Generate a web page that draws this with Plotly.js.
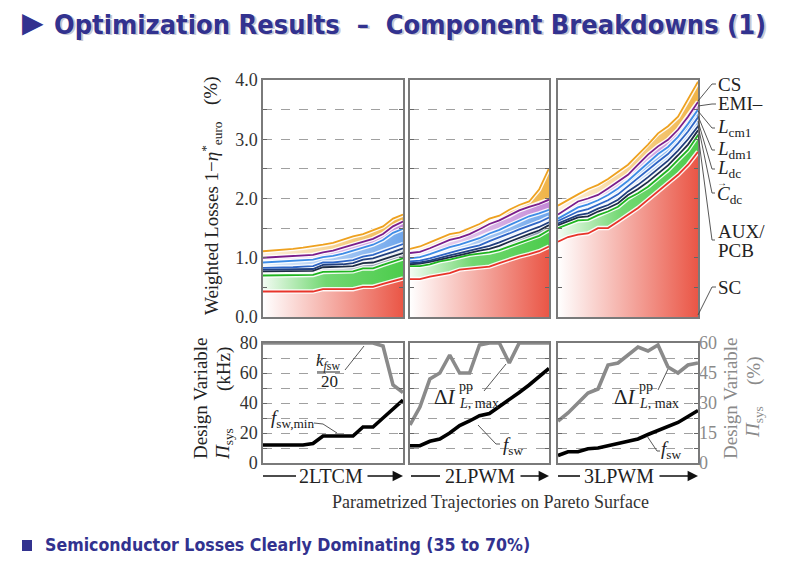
<!DOCTYPE html>
<html>
<head>
<meta charset="utf-8">
<script src="https://cdn.plot.ly/plotly-3.0.1.min.js"></script>
<style>body{margin:0;background:#fff}</style>
</head>
<body>
<div id="chart" style="width:792px;height:563px"></div>
<script>
// sample index along each Pareto trajectory
var idx = [0,1,2,3,4,5,6,7,8,9,10,11,12,13,14];

// cumulative weighted losses 1-eta (%), top edge of each component, 2LTCM
var tcm_SC   = [0.43,0.43,0.43,0.43,0.43,0.43,0.47,0.47,0.47,0.47,0.51,0.51,0.56,0.60,0.65];
var tcm_AUX  = [0.70,0.70,0.70,0.70,0.70,0.71,0.76,0.76,0.76,0.77,0.82,0.82,0.88,0.93,0.99];
var tcm_Cdc  = [0.77,0.77,0.77,0.77,0.77,0.78,0.84,0.84,0.85,0.86,0.91,0.92,0.97,1.02,1.08];
var tcm_Ldc  = [0.80,0.80,0.80,0.80,0.80,0.81,0.88,0.88,0.89,0.91,0.97,0.99,1.04,1.10,1.16];
var tcm_Ldm1 = [0.83,0.83,0.84,0.84,0.85,0.86,0.92,0.92,0.94,0.96,1.02,1.05,1.11,1.17,1.23];
var tcm_Lcm1 = [0.92,0.93,0.94,0.95,0.96,0.97,1.01,1.03,1.07,1.12,1.17,1.22,1.30,1.42,1.49];
var tcm_EMI  = [1.00,1.01,1.02,1.03,1.04,1.05,1.09,1.12,1.17,1.22,1.27,1.32,1.40,1.53,1.61];
var tcm_CS   = [1.11,1.12,1.13,1.15,1.17,1.19,1.22,1.25,1.31,1.36,1.40,1.46,1.53,1.66,1.73];

// 2LPWM
var pwm2_SC   = [0.64,0.64,0.68,0.71,0.74,0.80,0.82,0.83,0.85,0.91,0.97,1.02,1.06,1.11,1.19];
var pwm2_AUX  = [0.86,0.86,0.89,0.94,0.97,1.01,1.05,1.07,1.09,1.13,1.19,1.25,1.30,1.37,1.47];
var pwm2_Cdc  = [0.89,0.90,0.93,0.97,1.01,1.05,1.09,1.12,1.15,1.20,1.27,1.34,1.40,1.46,1.55];
var pwm2_Ldc  = [0.91,0.92,0.95,1.00,1.04,1.08,1.12,1.15,1.20,1.26,1.33,1.40,1.46,1.52,1.60];
var pwm2_Ldm1 = [0.94,0.95,0.99,1.04,1.09,1.13,1.17,1.21,1.28,1.34,1.41,1.48,1.54,1.60,1.68];
var pwm2_Lcm1 = [0.99,1.01,1.06,1.12,1.18,1.22,1.27,1.33,1.41,1.47,1.55,1.63,1.70,1.75,1.81];
var pwm2_EMI  = [1.08,1.10,1.16,1.23,1.30,1.34,1.40,1.48,1.57,1.63,1.71,1.80,1.86,1.91,1.98];
var pwm2_CS   = [1.15,1.19,1.26,1.33,1.40,1.43,1.50,1.57,1.66,1.71,1.81,1.89,1.95,2.15,2.51];

// 3LPWM
var pwm3_SC   = [1.27,1.35,1.39,1.41,1.50,1.50,1.61,1.72,1.84,1.98,2.12,2.26,2.40,2.57,2.79];
var pwm3_AUX  = [1.50,1.56,1.63,1.64,1.72,1.78,1.86,2.00,2.09,2.20,2.34,2.48,2.65,2.82,3.07];
var pwm3_Cdc  = [1.55,1.61,1.68,1.70,1.78,1.84,1.92,2.06,2.16,2.28,2.42,2.56,2.73,2.91,3.15];
var pwm3_Ldc  = [1.58,1.65,1.72,1.75,1.83,1.89,1.98,2.12,2.23,2.36,2.50,2.64,2.81,3.00,3.22];
var pwm3_Ldm1 = [1.62,1.70,1.78,1.82,1.90,1.97,2.07,2.21,2.34,2.48,2.62,2.75,2.93,3.13,3.37];
var pwm3_Lcm1 = [1.66,1.76,1.85,1.90,1.97,2.06,2.17,2.30,2.45,2.61,2.75,2.87,3.04,3.26,3.50];
var pwm3_EMI  = [1.73,1.84,1.95,2.00,2.06,2.17,2.29,2.40,2.57,2.74,2.88,2.99,3.16,3.38,3.63];
var pwm3_CS   = [1.88,1.98,2.07,2.16,2.23,2.33,2.45,2.57,2.74,2.91,3.10,3.22,3.38,3.67,3.97];

// design variables: switching frequency (kHz) and k_fsw/20 resp. ripple (%)
var tcm_fsw   = [12,12,12,12,12,13,18,18,18,18,24,24,30,36,42];
var tcm_kfsw  = [80,80,80,80,80,80,80,80,80,80,80,80,78,52,47];
var pwm2_fsw  = [11.5,11.5,14.5,16,20,25,28,31.5,33,37.5,42,47,52,57.5,63];
var pwm2_dI   = [19,28,42,45,54,45,45,59,60,60,50,60,60,60,60];
var pwm3_fsw  = [5,7.5,7.5,9.5,10,11.5,12.5,14,16,19,21.5,24,27,31,35];
var pwm3_dI   = [21,25,30,35,37,49,50,54,58,56,59,48,45,49,50];

var layerNames = ['SC','AUX','Cdc','Ldc','Ldm1','Lcm1','EMI','CS'];
var lineColors = ['#e8342a','#1fb51f','#1d2c45','#213f7e','#2f66c6','#3d8ce6','#7a1d8c','#eea11f'];
var fillScales = [
  [[0,'#ffffff'],[1,'#ea5646']],
  [[0,'#f2fbf2'],[0.45,'#72d872'],[1,'#4ccc4c']],
  [[0,'#e3e7ec'],[1,'#8593a6']],
  [[0,'#d2dbe7'],[1,'#51709a']],
  [[0,'#e4edf9'],[1,'#9dbfee']],
  [[0,'#e6f0fc'],[1,'#6fa6ec']],
  [[0,'#f3e9f6'],[1,'#c48ad8']],
  [[0,'#fdf3e2'],[1,'#f0b447']]
];

var panels = [
  {xa:'x',  ya:'y',  d:[tcm_SC,tcm_AUX,tcm_Cdc,tcm_Ldc,tcm_Ldm1,tcm_Lcm1,tcm_EMI,tcm_CS]},
  {xa:'x2', ya:'y2', d:[pwm2_SC,pwm2_AUX,pwm2_Cdc,pwm2_Ldc,pwm2_Ldm1,pwm2_Lcm1,pwm2_EMI,pwm2_CS]},
  {xa:'x3', ya:'y3', d:[pwm3_SC,pwm3_AUX,pwm3_Cdc,pwm3_Ldc,pwm3_Ldm1,pwm3_Lcm1,pwm3_EMI,pwm3_CS]}
];

var traces = [];
panels.forEach(function(p){
  p.d.forEach(function(arr, k){
    traces.push({x: idx, y: arr, xaxis: p.xa, yaxis: p.ya, mode: 'lines',
      line: {width: 0}, fill: k === 0 ? 'tozeroy' : 'tonexty',
      fillgradient: {type: 'horizontal', colorscale: fillScales[k]},
      hoverinfo: 'skip', showlegend: false, name: layerNames[k]});
  });
  p.d.forEach(function(arr){
    traces.push({x: idx, y: arr, xaxis: p.xa, yaxis: p.ya, mode: 'lines',
      line: {color: 'rgba(255,255,255,0.9)', width: 4.5}, hoverinfo: 'skip', showlegend: false});
  });
  p.d.forEach(function(arr, k){
    traces.push({x: idx, y: arr, xaxis: p.xa, yaxis: p.ya, mode: 'lines',
      line: {color: lineColors[k], width: 1.8}, hoverinfo: 'skip', showlegend: false});
  });
});

// design variable lines
function dv(y, xa, ya, color){
  traces.push({x: idx, y: y, xaxis: xa, yaxis: ya, mode: 'lines',
    line: {color: color, width: 3.6}, hoverinfo: 'skip', showlegend: false});
}
dv(tcm_kfsw, 'x4', 'y4', '#8a8a8a');
dv(tcm_fsw,  'x4', 'y4', '#000');
dv(pwm2_dI,  'x5', 'y7', '#8a8a8a');
dv(pwm2_fsw, 'x5', 'y5', '#000');
dv(pwm3_dI,  'x6', 'y8', '#8a8a8a');
dv(pwm3_fsw, 'x6', 'y6', '#000');

var W = 792, H = 563;
function X(px){ return px / W; }
function Y(py){ return 1 - py / H; }

var serif = 'Liberation Serif, Times New Roman, serif';
var frame = '#7a7a7a';

function xax(l, r, anchor){
  return {domain: [X(l), X(r)], range: [0, 14], anchor: anchor, showgrid: false, zeroline: false,
    showticklabels: false, ticks: '', showline: true, mirror: true, linecolor: frame, linewidth: 1.6, fixedrange: true};
}
function yax(top, bot, anchor, range, vals, text){
  return {domain: [Y(bot), Y(top)], range: range, anchor: anchor, tickvals: vals,
    ticktext: text, showticklabels: !!text, ticks: 'inside', ticklen: 4, tickcolor: '#666',
    showgrid: true, griddash: 'dash', gridcolor: '#a0a0a0', gridwidth: 1, zeroline: false,
    showline: true, mirror: 'allticks', linecolor: frame, linewidth: 1.6,
    tickfont: {family: serif, size: 18, color: '#333'}, fixedrange: true};
}

var topVals = [0,0.5,1,1.5,2,2.5,3,3.5,4];
var topText = ['0.0','','1.0','','2.0','','3.0','','4.0'];
var botVals = [0,10,20,30,40,50,60,70,80];
var botText = ['0','','20','','40','','60','','80'];

var P1 = [263,403], P2 = [410,549], P3 = [558,698];
var TOP = [80,317], BOT = [343,463];

var annotations = [];
function txt(t, x, y, opt){
  opt = opt || {};
  annotations.push({text: t, x: X(x), y: Y(y), xref: 'paper', yref: 'paper', showarrow: false,
    xanchor: opt.xa || 'center', yanchor: 'middle', textangle: opt.ang || 0,
    font: {family: opt.fam || serif, size: opt.size || 18, color: opt.color || '#222'}});
}
var shapes = [];
function seg(pts, color, w){
  for (var i = 0; i < pts.length - 1; i++){
    shapes.push({type: 'line', xref: 'paper', yref: 'paper',
      x0: X(pts[i][0]), y0: Y(pts[i][1]), x1: X(pts[i+1][0]), y1: Y(pts[i+1][1]),
      line: {color: color || '#444', width: w || 0.9}});
  }
}

// title and bullet
var sans = 'DejaVu Sans Condensed, DejaVu Sans, sans-serif';
var title = '<b>Optimization Results  –  Component Breakdowns (1)</b>';
txt(title, 54, 26, {xa: 'left', fam: sans, size: 27, color: '#c8c8d4'});
txt(title, 52, 24, {xa: 'left', fam: sans, size: 27, color: '#32328f'});
txt('▶', 33, 23, {fam: 'DejaVu Sans', size: 28, color: '#32328f'});
shapes.push({type: 'rect', xref: 'paper', yref: 'paper', x0: X(22), x1: X(32), y0: Y(551), y1: Y(540),
  fillcolor: '#32328f', line: {width: 0}});
txt('<b>Semiconductor Losses Clearly Dominating (35 to 70%)</b>', 43, 545, {xa: 'left', fam: sans, size: 17.6, color: '#32328f'});

// axis titles
txt('Weighted Losses 1−<i>η</i><sup>*</sup><sub>euro</sub>', 211, 218, {ang: -90, size: 19});
txt('(%)', 211, 91, {ang: -90, size: 19});
txt('Design Variable', 200, 398, {ang: -90, size: 19});
txt('(kHz)', 224, 369, {ang: -90, size: 19});
txt('<i>Π</i><sub>sys</sub>', 224, 444, {ang: -90, size: 19});
txt('Design Variable', 730, 398, {ang: -90, size: 19, color: '#8a8a8a'});
txt('(%)', 754, 371, {ang: -90, size: 19, color: '#8a8a8a'});
txt('<i>Π</i><sub>sys</sub>', 754, 422, {ang: -90, size: 19, color: '#8a8a8a'});

// component labels with leader lines
txt('CS', 716, 84, {xa: 'left', size: 19});
txt('EMI–', 716, 104, {xa: 'left', size: 19});
txt('<i>L</i><sub>cm1</sub>', 715, 128, {xa: 'left', size: 19});
txt('<i>L</i><sub>dm1</sub>', 715, 150, {xa: 'left', size: 19});
txt('<i>L</i><sub>dc</sub>', 715, 169, {xa: 'left', size: 19});
txt('<i>C</i><sub>dc</sub>', 715, 195, {xa: 'left', size: 19});
txt('→', 722, 183, {size: 10});
txt('AUX/', 716, 231, {xa: 'left', size: 19});
txt('PCB', 716, 251, {xa: 'left', size: 19});
txt('SC', 716, 287, {xa: 'left', size: 19});
seg([[698,101],[712,84],[716,84]]);
seg([[698,106],[712,104],[716,104]]);
seg([[698,111],[712,128],[715,128]]);
seg([[698,116],[712,150],[715,150]]);
seg([[698,121],[712,169],[715,169]]);
seg([[698,125],[712,193],[715,193]]);
seg([[698,134],[712,240],[715,240]]);
seg([[698,315],[712,287],[716,287]]);

// design variable labels
txt('<i>k</i><sub><i>f</i>sw</sub>', 328, 362, {size: 17});
seg([[317,372],[340,372]], '#222', 1);
txt('20', 329, 381, {size: 17});
seg([[345,370],[364,346]]);
txt('<i>f</i><sub>sw,min</sub>', 269, 419, {xa: 'left', size: 19});
seg([[314,423],[323,424],[337,433]]);

txt('Δ<i>I</i>', 432, 397, {xa: 'left', size: 21});
txt('pp', 457, 386, {xa: 'left', size: 14});
txt('<i>L</i>, max', 457, 403, {xa: 'left', size: 14});
seg([[484,391],[506,364]]);
txt('<i>f</i><sub>sw</sub>', 501, 446, {xa: 'left', size: 19});
seg([[478,425],[496,444],[500,444]]);

txt('Δ<i>I</i>', 612, 397, {xa: 'left', size: 21});
txt('pp', 637, 386, {xa: 'left', size: 14});
txt('<i>L</i>, max', 637, 403, {xa: 'left', size: 14});
seg([[658,390],[668,369]]);
txt('<i>f</i><sub>sw</sub>', 659, 450, {xa: 'left', size: 19});
seg([[647,436],[657,451],[660,451]]);

// topology arrows
function topo(name, l, tl, tr, r){
  txt(name, (tl + tr) / 2, 476, {size: 20});
  seg([[l,476],[tl,476]], '#111', 1.6);
  annotations.push({text: '', x: X(r), y: Y(476), ax: X(tr), ay: Y(476), xref: 'paper', yref: 'paper',
    axref: 'paper', ayref: 'paper', showarrow: true, arrowhead: 2, arrowsize: 1.3, arrowwidth: 1.6, arrowcolor: '#111'});
}
topo('2LTCM', 263, 296, 366, 403);
topo('2LPWM', 411, 440, 519, 549);
topo('3LPWM', 558, 580, 658, 698);
txt('Parametrized Trajectories on Pareto Surface', 490, 502, {size: 18, color: '#333'});

var layout = {
  width: W, height: H, margin: {l: 0, r: 0, t: 0, b: 0},
  paper_bgcolor: '#fff', plot_bgcolor: 'rgba(0,0,0,0)', showlegend: false,
  xaxis:  xax(P1[0], P1[1], 'y'),
  xaxis2: xax(P2[0], P2[1], 'y2'),
  xaxis3: xax(P3[0], P3[1], 'y3'),
  xaxis4: xax(P1[0], P1[1], 'y4'),
  xaxis5: xax(P2[0], P2[1], 'y5'),
  xaxis6: xax(P3[0], P3[1], 'y6'),
  yaxis:  yax(TOP[0], TOP[1], 'x',  [0,4], topVals, topText),
  yaxis2: yax(TOP[0], TOP[1], 'x2', [0,4], topVals, null),
  yaxis3: yax(TOP[0], TOP[1], 'x3', [0,4], topVals, null),
  yaxis4: yax(BOT[0], BOT[1], 'x4', [0,80], botVals, botText),
  yaxis5: yax(BOT[0], BOT[1], 'x5', [0,80], botVals, null),
  yaxis6: yax(BOT[0], BOT[1], 'x6', [0,80], botVals, null),
  yaxis7: {overlaying: 'y5', anchor: 'x5', range: [0,60], visible: false, fixedrange: true},
  yaxis8: {overlaying: 'y6', anchor: 'x6', side: 'right', range: [0,60], tickvals: [0,15,30,45,60],
    showgrid: false, zeroline: false, showline: false, ticks: '', fixedrange: true,
    tickfont: {family: serif, size: 18, color: '#8a8a8a'}},
  annotations: annotations,
  shapes: shapes
};

Plotly.newPlot('chart', traces, layout, {displayModeBar: false, staticPlot: true});
</script>
</body>
</html>
